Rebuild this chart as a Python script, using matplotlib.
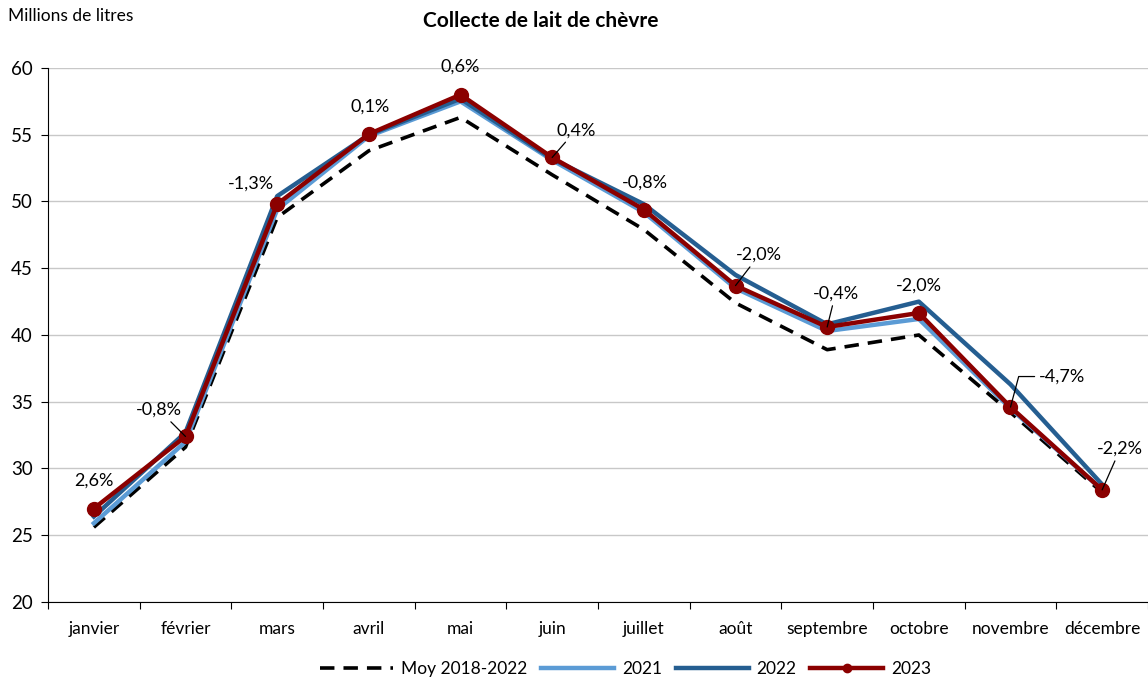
import numpy as np
import matplotlib.pyplot as plt

plt.rcParams['font.family'] = ['Lato', 'DejaVu Sans']

# donnees (millions de litres)
mois = ["janvier", "février", "mars", "avril", "mai", "juin", "juillet",
        "août", "septembre", "octobre", "novembre", "décembre"]
moy = [25.6, 31.6, 48.8, 53.8, 56.3, 52.0, 47.9, 42.4, 38.9, 40.0, 34.2, 28.2]
v2021 = [25.9, 32.0, 49.4, 54.9, 57.5, 53.1, 49.2, 43.5, 40.3, 41.2, 34.5, 28.4]
v2022 = [26.4, 32.7, 50.4, 55.0, 57.7, 53.2, 49.8, 44.5, 40.8, 42.5, 36.3, 28.8]
v2023 = [27.0, 32.4, 49.8, 55.05, 58.0, 53.3, 49.4, 43.7, 40.6, 41.65, 34.6, 28.4]
evol = ["2,6%", "-0,8%", "-1,3%", "0,1%", "0,6%", "0,4%", "-0,8%",
        "-2,0%", "-0,4%", "-2,0%", "-4,7%", "-2,2%"]

x = np.arange(len(mois))

fig = plt.figure(figsize=(11.48, 6.79), dpi=100)
ax = fig.add_axes([48/1148, 1-602/679, 1-48/1148, (602-68)/679])

ax.plot(x, moy, color="black", lw=2.6, dashes=(4, 2.5), label="Moy 2018-2022", zorder=3)
ax.plot(x, v2021, color="#5b9bd5", lw=3.2, label="2021", zorder=4)
ax.plot(x, v2022, color="#255e91", lw=3.2, label="2022", zorder=5)
ax.plot(x, v2023, color="#8b0000", lw=3.2, marker="o", ms=10, label="2023", zorder=6)

# etiquettes d'evolution (offsets en points)
offs = [(0, 20), (-19, 19), (-19, 15), (1, 19.5), (0, 20), (17, 19.5), (1, 19),
        (17, 22), (6, 24), (0, 20), (37, 22), (13, 29.5)]
fleche = [False, True, False, False, False, True, False, True, True, False, True, True]
for i in range(len(mois)):
    dx, dy = offs[i]
    if fleche[i]:
        if i == 10:
            style = "angle,angleA=0,angleB=75,rad=0"
        else:
            style = "arc3"
        ax.annotate(evol[i], (x[i], v2023[i]), xytext=(dx, dy), textcoords="offset points",
                    ha="center", va="center", fontsize=13, zorder=10,
                    arrowprops=dict(arrowstyle="-", lw=0.9, color="black",
                                    connectionstyle=style, shrinkA=1, shrinkB=0))
    else:
        ax.annotate(evol[i], (x[i], v2023[i]), xytext=(dx, dy), textcoords="offset points",
                    ha="center", va="center", fontsize=13, zorder=10)

ax.set_xlim(-0.5, 11.5)
ax.set_ylim(20, 60)
ax.set_yticks(np.arange(20, 61, 5))
ax.set_xticks(np.arange(-0.5, 12, 1))
ax.set_xticklabels([])
ax.set_xticks(x, minor=True)
ax.set_xticklabels(mois, minor=True)
ax.tick_params(axis="x", which="minor", length=0, pad=14, labelsize=12.5)
ax.tick_params(axis="x", which="major", length=5, color="black")
ax.tick_params(axis="y", length=5, labelsize=13.5, pad=6)
ax.grid(axis="y", color="#c8c8c8", lw=1)
ax.set_axisbelow(True)
for s in ["top", "right"]:
    ax.spines[s].set_visible(False)
ax.spines["left"].set_color("black")
ax.spines["bottom"].set_color("black")

fig.text(8/1148, 1-16/679, "Millions de litres", fontsize=12.5, va="center", ha="left")
fig.text(541/1148, 1-21/679, "Collecte de lait de chèvre", fontsize=15,
         fontweight="bold", va="center", ha="center")

leg = fig.legend(loc="center", bbox_to_anchor=(0.545, 1-669/679), ncol=4, frameon=False,
                 fontsize=12.5, handlelength=4.2, columnspacing=0.8, handletextpad=0.45,
                 markerscale=0.6)

fig.savefig("out.png", dpi=100)
